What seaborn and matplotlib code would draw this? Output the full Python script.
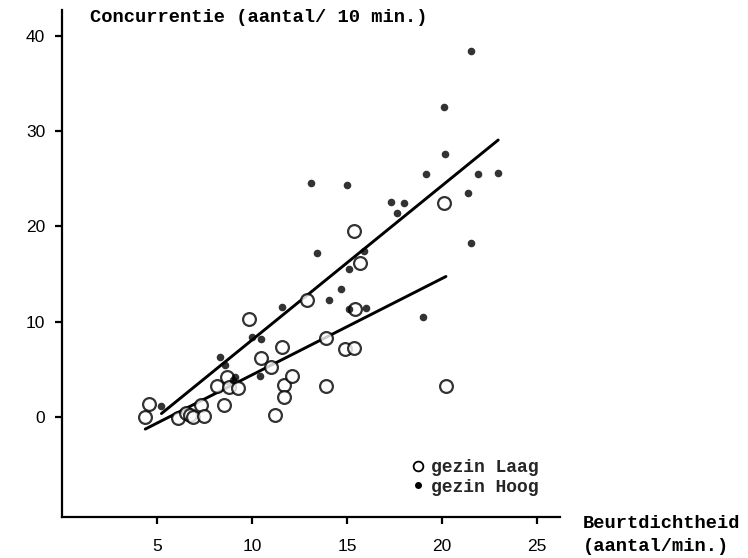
import matplotlib
matplotlib.use("Agg")
import matplotlib.pyplot as plt
import seaborn as sns
import pandas as pd
from matplotlib.lines import Line2D

# Data
laag_x = [4.38, 4.59, 6.1, 6.5, 6.75, 6.9, 7.33, 7.45, 8.18, 8.54, 8.68, 8.77, 9.26,
          9.82, 10.49, 11.0, 11.2, 11.58, 11.66, 11.66, 12.1, 12.9, 13.9, 13.9, 14.9,
          15.35, 15.35, 15.44, 15.7, 20.12, 20.2]
laag_y = [0.03, 1.36, -0.1, 0.4, 0.2, 0.03, 1.26, 0.1, 3.25, 1.23, 4.23, 3.1, 3.0,
          10.25, 6.19, 5.2, 0.2, 7.31, 3.36, 2.13, 4.3, 12.3, 8.26, 3.2, 7.1,
          7.27, 19.5, 11.3, 16.2, 22.5, 3.25]
hoog_x = [5.23, 8.33, 8.6, 9.08, 9.0, 10.0, 10.47, 10.44, 11.6, 13.12, 13.4, 14.07,
          14.7, 15.0, 15.08, 15.08, 15.87, 16.0, 17.3, 17.6, 18.0, 19.0, 19.16, 20.1,
          20.17, 21.37, 21.5, 21.5, 21.9, 22.95]
hoog_y = [1.15, 6.26, 5.46, 4.23, 3.9, 8.36, 8.15, 4.3, 11.5, 24.5, 17.2, 12.3,
          13.4, 24.3, 15.5, 11.3, 17.4, 11.4, 22.6, 21.4, 22.5, 10.5, 25.5, 32.5,
          27.6, 23.5, 18.3, 38.4, 25.5, 25.6]
x_ticks = [5, 10, 15, 20, 25]
y_ticks = [0, 10, 20, 30, 40]
labels = ["gezin Laag", "gezin Hoog"]
y_title = "Concurrentie (aantal/ 10 min.)"
x_title = "Beurtdichtheid\n(aantal/min.)"

sns.set_theme(style="ticks")
plt.rcParams["font.family"] = ["Liberation Sans", "DejaVu Sans"]
mono = "Liberation Mono"

laag = pd.DataFrame({"x": laag_x, "y": laag_y})
hoog = pd.DataFrame({"x": hoog_x, "y": hoog_y})

fig = plt.figure(figsize=(7.48, 5.58), dpi=100)
ax = fig.add_axes([62 / 748, 1 - 517 / 558, (560 - 62) / 748, (517 - 10) / 558])

line_kws = dict(color="black", lw=2.1)
sns.regplot(data=laag, x="x", y="y", ax=ax, ci=None, truncate=True,
            scatter_kws=dict(s=85, facecolors="white", edgecolors="black",
                             linewidths=1.6, zorder=3),
            line_kws=line_kws, marker="o")
sns.regplot(data=hoog, x="x", y="y", ax=ax, ci=None, truncate=True,
            scatter_kws=dict(s=30, color="black", linewidths=0, zorder=4),
            line_kws=line_kws, marker="o")

ax.set_xlim(0, 26.2)
ax.set_ylim(-10.5, 42.7)
ax.set_xticks(x_ticks)
ax.set_yticks(y_ticks)
ax.set_xlabel("")
ax.set_ylabel("")
for s in ["top", "right"]:
    ax.spines[s].set_visible(False)
for s in ["left", "bottom"]:
    ax.spines[s].set_linewidth(1.6)
    ax.spines[s].set_color("black")
ax.tick_params(axis="both", direction="out", length=5, width=1.6, colors="black",
               labelsize=12.5)
ax.tick_params(axis="x", pad=11)
ax.tick_params(axis="y", pad=7)

txt = dict(family=mono, fontsize=13.5, weight="bold", color="black", ha="left",
           va="center")
fig.text(90 / 748, 1 - 18 / 558, y_title, **txt)
fig.text(583 / 748, 1 - 535 / 558, x_title, linespacing=1.5, **txt)

handles = [
    Line2D([], [], ls="none", marker="o", markersize=7, markerfacecolor="white",
           markeredgecolor="black", markeredgewidth=1.3),
    Line2D([], [], ls="none", marker="o", markersize=4, color="black"),
]
leg = ax.legend(handles, labels, loc="upper left",
                bbox_to_anchor=(404 / 748, 1 - 450 / 558),
                bbox_transform=fig.transFigure, frameon=False,
                prop=dict(family=mono, size=13, weight="bold"), handlelength=0.6,
                handletextpad=0.4, labelspacing=0.15, borderpad=0)

fig.savefig("out.png", dpi=100)
